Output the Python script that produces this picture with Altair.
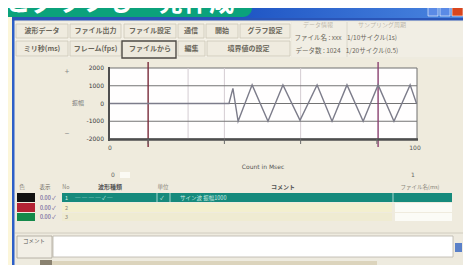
import altair as alt
import pandas as pd

# ---------------- data ----------------
wave_x = [0, 39.0, 40.3, 42.0, 46.6, 51.8, 56.7, 62.3, 67.9, 72.8, 77.7, 83.0, 87.9, 93.1, 98.4, 100.5]
wave_y = [0, 0, 850, -1000, 1050, -1000, 1050, -950, 1050, -1000, 1050, -1000, 1050, -1000, 1050, 0]
y_ticks = [2000, 1000, 0, -1000, -2000]
y_labels = ["2000", "1000", "0", "-1000", "-2000"]
grid_y = [1000, 0, -1000]
x_label_vals = [0, 100]
x_labels = ["0", "100"]
tick_x = [12.5, 37.5, 62.5, 87.5]
grid_x = [25.6, 37.5, 62.5]
cursor_x = [12.5, 87.9]
cursor_names = ["A", "B"]

OFF = 8
JP = "Noto Sans CJK JP"
one = pd.DataFrame({"k": [0]})

xs = alt.Scale(domain=[0, 100], range=[102, 407])
ys = alt.Scale(domain=[-2000, 2000], range=[131, 60])


def R(x1, y1, x2, y2, fill, stroke=None, sw=0, **kw):
    m = dict(fill=fill)
    if stroke:
        m.update(stroke=stroke, strokeWidth=sw)
    m.update(kw)
    return alt.Chart(one).mark_rect(**m).encode(
        x=alt.value(x1 - OFF), x2=alt.value(x2 - OFF),
        y=alt.value(y1 - OFF), y2=alt.value(y2 - OFF))


def L(x1, y1, x2, y2, color, w=1.0):
    return alt.Chart(one).mark_rule(color=color, strokeWidth=w).encode(
        x=alt.value(x1 - OFF), x2=alt.value(x2 - OFF),
        y=alt.value(y1 - OFF), y2=alt.value(y2 - OFF))


def T(x, y, s, size=7, color="#5e5a50", align="left", weight="normal", font=JP, baseline="middle"):
    return alt.Chart(one).mark_text(text=s, fontSize=size, color=color, align=align,
                                    fontWeight=weight, font=font, baseline=baseline).encode(
        x=alt.value(x - OFF), y=alt.value(y - OFF))


layers = []
# window body
layers += [
    R(12, 17, 467, 290, "#eeebdf"),
    R(12, 17, 14.5, 290, "#2d5fc8"),
    R(464, 17, 467, 290, "#2d5fc8"),
    R(12, 17, 467, 20.5, "#2a55b8"),
]
# title bar
grad = alt.LinearGradient(gradient="linear", x1=0, x2=1, y1=0, y2=0,
                          stops=[alt.GradientStop(color="#1f55c4", offset=0),
                                 alt.GradientStop(color="#4a86e0", offset=1)])
layers += [
    alt.Chart(one).mark_rect(fill=grad).encode(x=alt.value(240 - OFF), x2=alt.value(467 - OFF),
                                               y=alt.value(3 - OFF), y2=alt.value(18 - OFF)),
    R(428, 5, 438, 16, "#5a8ae6", stroke="#ffffff", sw=0.6),
    R(440, 5, 450, 16, "#5a8ae6", stroke="#ffffff", sw=0.6),
    R(452, 5, 463, 16, "#d8461f", stroke="#ffffff", sw=0.6),
]
# green banner
layers += [
    R(-10, -10, 252, 17, "#0ba27b", cornerRadius=9),
    T(5, 15.5, "とグラフも一発作成", size=25.5, color="#ffffff", weight="bold", baseline="bottom"),
]
# toolbar
layers += [R(15, 22, 291, 57, "#f3f0e6"), R(292, 22, 464, 57, "#f1eee4")]
row1 = [(16, 68, "波形データ"), (70, 121, "ファイル出力"), (124, 176, "ファイル設定"),
        (178, 204, "通信"), (206, 238, "開始"), (240, 290, "グラフ設定")]
row2 = [(16, 68, "ミリ秒(ms)"), (70, 121, "フレーム(fps)"), (124, 176, "ファイルから"),
        (178, 205, "編集"), (207, 290, "境界値の設定")]
for a, b, s in row1:
    layers.append(R(a, 24, b, 38, "#efebdf", stroke="#cbc6b6", sw=0.8))
    layers.append(T((a + b) / 2, 31, s, size=7, align="center", weight="bold", color="#6a665a"))
for a, b, s in row2:
    if s == "ファイルから":
        layers.append(R(a - 2, 41, b, 58, "#ece8dc", stroke="#4e4a44", sw=1.4))
    else:
        layers.append(R(a, 41, b, 56, "#efebdf", stroke="#cbc6b6", sw=0.8))
    layers.append(T((a + b) / 2, 49, s, size=7, align="center", weight="bold", color="#6a665a"))
layers += [
    L(347, 22, 347, 57, "#d6d1c4", 0.8),
    T(318, 25, "データ情報", size=6, align="center", color="#bdb8ac"),
    T(382, 25, "サンプリング周期", size=6, align="center", color="#bdb8ac"),
    T(318, 38, "ファイル名 : xxx", size=6.5, align="center", color="#6a665a"),
    T(372, 38, "1/10サイクル(1s)", size=6.5, align="center", color="#6a665a"),
    T(318, 51, "データ数 : 1024", size=6.5, align="center", color="#6a665a"),
    T(372, 51, "1/20サイクル(0.5)", size=6.5, align="center", color="#6a665a"),
]
# plot panel
layers += [
    R(15, 59, 464, 182, "#efebdd"),
    R(109, 68, 417, 139, "#fffefe", stroke="#6e6e6e", sw=1),
]
# vertical faint grid
layers.append(alt.Chart(pd.DataFrame({"x": grid_x})).mark_rule(color="#d4ccd2", strokeWidth=1).encode(
    x=alt.X("x:Q", scale=xs, axis=None), y=alt.value(68 - OFF), y2=alt.value(139 - OFF)))
# horizontal grid
layers.append(alt.Chart(pd.DataFrame({"y": grid_y})).mark_rule(color="#737373", strokeWidth=1.1).encode(
    y=alt.Y("y:Q", scale=ys, axis=None), x=alt.value(109 - OFF), x2=alt.value(417 - OFF)))
# cursors
layers.append(alt.Chart(pd.DataFrame({"x": cursor_x, "c": cursor_names})).mark_rule(strokeWidth=1.4).encode(
    x=alt.X("x:Q", scale=xs, axis=None), y=alt.value(62 - OFF), y2=alt.value(147 - OFF),
    color=alt.Color("c:N", scale=alt.Scale(domain=cursor_names, range=["#7a2a3a", "#8a4070"]), legend=None)))
# wave
layers.append(alt.Chart(pd.DataFrame({"x": wave_x, "y": wave_y})).mark_line(color="#7c7c8a", strokeWidth=1.4).encode(
    x=alt.X("x:Q", scale=xs, axis=None), y=alt.Y("y:Q", scale=ys, axis=None)))
# axis frame
layers += [L(109, 67, 109, 141, "#4e4e4e", 2), L(108, 139.5, 418, 139.5, "#4e4e4e", 2.5)]
# y labels
layers.append(alt.Chart(pd.DataFrame({"y": y_ticks, "t": y_labels})).mark_text(
    fontSize=6, align="right", color="#3a3a3a", font="DejaVu Sans").encode(
    y=alt.Y("y:Q", scale=ys, axis=None), x=alt.value(104 - OFF), text="t:N"))
# x ticks and labels
layers.append(alt.Chart(pd.DataFrame({"x": tick_x})).mark_rule(color="#6a6a6a", strokeWidth=1).encode(
    x=alt.X("x:Q", scale=xs, axis=None), y=alt.value(139 - OFF), y2=alt.value(144 - OFF)))
layers.append(alt.Chart(pd.DataFrame({"x": x_label_vals, "t": x_labels})).mark_text(
    fontSize=6, color="#555555", font="DejaVu Sans").encode(
    x=alt.X("x:Q", scale=xs, axis=None), y=alt.value(148 - OFF), text="t:N"))
layers += [
    T(78, 103, "振幅", size=6, align="center", color="#777"),
    T(67, 72, "+", size=8, align="center", color="#888"),
    T(67, 134, "−", size=8, align="center", color="#888"),
    T(263, 167, "Count in Msec", size=6, align="center", color="#555", font="DejaVu Sans"),
    T(113, 175, "0", size=6, align="center", color="#666", font="DejaVu Sans"),
    T(413, 175, "1", size=6, align="center", color="#666", font="DejaVu Sans"),
    R(120, 172, 130, 178, "#fbfaf4"),
]
# table
layers += [
    R(15, 182, 464, 232, "#efebde"),
    T(22, 187, "色", size=5.5, align="center", color="#8a867a"),
    T(45, 187, "表示", size=5.5, align="center", color="#6a665a"),
    T(66, 187, "No", size=5.5, align="center", color="#8a867a"),
    T(110, 187, "波形種類", size=6, align="center", weight="bold", color="#555"),
    T(163, 187, "単位", size=5.5, align="center", color="#8a867a"),
    T(283, 187, "コメント", size=6, align="center", weight="bold", color="#555"),
    T(420, 187, "ファイル名(ms)", size=5.5, align="center", color="#8a867a"),
    R(17, 193, 35, 202, "#111111"),
    R(62, 193, 452, 202, "#168a7c"),
    L(157, 193, 157, 202, "#cfeae4", 0.8),
    L(170, 193, 170, 202, "#cfeae4", 0.8),
    L(393, 193, 393, 202, "#cfeae4", 0.8),
    T(65, 197.5, "1", size=5.5, color="#dff2ec"),
    T(75, 197.5, "─ ─ ─ ─ ✓ ─", size=5.5, color="#cfeae4"),
    T(160, 197.5, "✓", size=5.5, color="#dff2ec"),
    T(180, 197.5, "サイン波 振幅1000", size=5.5, color="#cfeae4"),
    R(17, 203, 35, 212, "#b32234"),
    R(62, 203, 392, 212, "#f3efcf"),
    R(395, 203, 452, 212, "#fbfbf6"),
    R(17, 213, 35, 221, "#14894a"),
    R(62, 213, 392, 221, "#efebd2"),
    R(395, 213, 452, 221, "#fbfbf6"),
    L(15, 233, 464, 233, "#c9c4b6", 0.8),
]
for yy, n in [(197.5, "1"), (207.5, "2"), (217, "3")]:
    layers.append(T(40, yy, "0.00 ✓", size=5.5, color="#5a4a90"))
    if n != "1":
        layers.append(T(65, yy, n, size=5.5, color="#8a867a"))
# comment box
layers += [
    R(15, 235, 464, 259, "#eeeadf"),
    R(17, 236, 52, 258, "#f2efe6", stroke="#a8a498", sw=0.8),
    T(34, 241, "コメント", size=5.5, align="center", color="#555"),
    R(53, 236, 453, 257, "#ffffff", stroke="#b8b4a8", sw=0.8),
    R(455, 243, 462, 252, "#5a80c8"),
    R(40, 261, 377, 266, "#dcd4bc"),
    R(40, 260, 52, 267, "#8a8270"),
]

chart = alt.layer(*layers).properties(
    width=455, height=257, padding=0,
    autosize=alt.AutoSizeParams(type="none"),
    background="#fcf6da",
).configure_view(stroke=None)

chart.save("out.html", embed_options={"renderer": "svg", "actions": False})
